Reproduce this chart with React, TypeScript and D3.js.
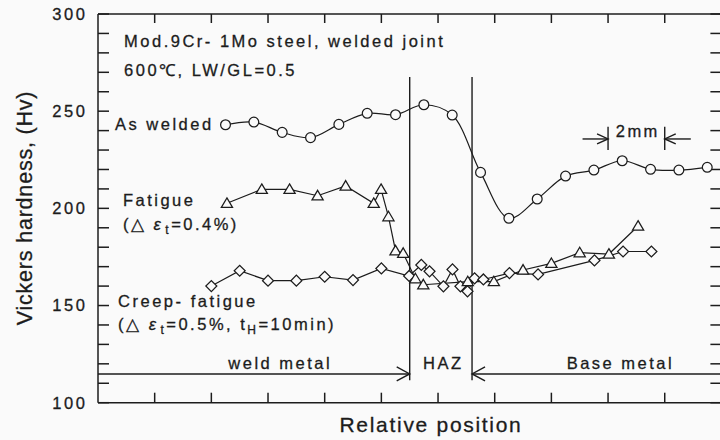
import React from "react";
import * as d3 from "d3";

// relative position in mm, hardness in Hv
const asWeldedPos = [4.5, 5.5, 6.5, 7.5, 8.5, 9.5, 10.5, 11.5, 12.5, 13.5, 14.5, 15.5, 16.5, 17.5, 18.5, 19.5, 20.5, 21.5];
const asWeldedHv = [243, 244.4, 239.1, 236.4, 243.2, 248.9, 248.2, 253.3, 248.0, 218.5, 194.9, 204.8, 216.6, 219.7, 224.5, 220.1, 219.7, 221.1];

const fatiguePos = [4.55, 5.78, 6.76, 7.75, 8.74, 9.73, 9.99, 10.25, 10.5, 10.77, 11.2, 11.48, 13.05, 13.97, 15.0, 16.0, 17.0, 18.03, 19.06];
const fatigueHv = [202.6, 209.8, 209.8, 206.5, 211.5, 202.6, 209.8, 195.7, 178.2, 176.9, 163.8, 160.7, 162.3, 162.3, 168.3, 171.7, 177.2, 176.5, 190.9];

const creepPos = [4.0, 5.0, 6.0, 7.0, 8.0, 9.0, 10.0, 10.98, 11.41, 11.7, 12.19, 12.51, 12.79, 13.04, 13.29, 13.6, 14.52, 15.53, 17.52, 18.53, 19.53];
const creepHv = [160.0, 167.9, 162.8, 162.8, 164.8, 163.1, 169.1, 165.2, 170.9, 167.6, 159.9, 168.6, 159.9, 157.3, 164.0, 163.4, 166.7, 166.0, 173.2, 177.8, 177.8];

const yTickLabels = [100, 150, 200, 250, 300];
const hazBounds = [11, 13.2];

const FONT = '"Liberation Sans", Arial, sans-serif';
const INK = "#1c1c1c";
const BG = "#fafafa";

export default function App() {
  const x = d3.scaleLinear().domain([0, 22]).range([98, 721.4]);
  const y = d3.scaleLinear().domain([100, 300]).range([402.7, 14]);
  const [x0, x1] = x.range();
  const [yb, yt] = y.range();

  const pts = (xs: number[], ys: number[]) => xs.map((v, i) => [v, ys[i]] as [number, number]);
  const aw = pts(asWeldedPos, asWeldedHv);
  const fa = pts(fatiguePos, fatigueHv);
  const cf = pts(creepPos, creepHv);

  const smooth = d3.line<[number, number]>().x(d => x(d[0])).y(d => y(d[1])).curve(d3.curveCatmullRom.alpha(0.5));
  const straight = d3.line<[number, number]>().x(d => x(d[0])).y(d => y(d[1]));

  const minorY = d3.range(100, 301, 10);
  const minorX = d3.range(2, 22, 2);

  const tri = "M0,-5.4L5.6,4.1L-5.6,4.1Z";
  const diamond = d3.symbol(d3.symbolSquare, 60)();

  const arrowY = y(114.8);
  const txt = { fontFamily: FONT, fill: INK, fontSize: 16.5, letterSpacing: 2.5, stroke: INK, strokeWidth: 0.3 } as const;

  return (
    <svg width={720} height={440} style={{ position: "absolute", left: 0, top: 0, background: BG }}>
      <rect width={720} height={440} fill={BG} />
      {/* frame */}
      <g stroke={INK} strokeWidth={1.5} fill="none">
        <line x1={x0} x2={x0} y1={yt} y2={yb} />
        <line x1={x0} x2={x1} y1={yb} y2={yb} />
        <line x1={x0} x2={x1} y1={yt} y2={yt} />
        <line x1={x1} x2={x1} y1={yt} y2={yb} />
        {minorY.map(v => (
          <g key={"ty" + v}>
            <line x1={x0} x2={x0 + 11} y1={y(v)} y2={y(v)} />
            <line x1={x1} x2={x1 - 11} y1={y(v)} y2={y(v)} />
          </g>
        ))}
        {minorX.map(v => (
          <g key={"tx" + v}>
            <line x1={x(v)} x2={x(v)} y1={yb} y2={yb - 10} />
            <line x1={x(v)} x2={x(v)} y1={yt} y2={yt + 9} />
          </g>
        ))}
      </g>
      {yTickLabels.map(v => (
        <text key={"l" + v} x={87.5} y={y(v)} dy="0.36em" textAnchor="end" fontFamily={FONT} fontSize={16.5} letterSpacing={2.6} fill={INK} stroke={INK} strokeWidth={0.3}>
          {v}
        </text>
      ))}
      <text transform={`translate(32,208) rotate(-90)`} textAnchor="middle" fontFamily={FONT} fontSize={21.5} letterSpacing={0.8} fill={INK} stroke={INK} strokeWidth={0.3}>
        Vickers hardness, (Hv)
      </text>
      <text x={431} y={432} textAnchor="middle" fontFamily={FONT} fontSize={21} letterSpacing={1.7} fill={INK} stroke={INK} strokeWidth={0.3}>
        Relative position
      </text>

      {/* region markers */}
      <g stroke={INK} strokeWidth={1.4} fill="none">
        {hazBounds.map(b => (
          <line key={"hb" + b} x1={x(b)} x2={x(b)} y1={y(267.6)} y2={y(111.5)} />
        ))}
        <line x1={x0} x2={x(hazBounds[0])} y1={arrowY} y2={arrowY} />
        <line x1={x(hazBounds[1])} x2={x1} y1={arrowY} y2={arrowY} />
        <path d={`M${x(hazBounds[0]) - 13},${arrowY - 7}L${x(hazBounds[0])},${arrowY}L${x(hazBounds[0]) - 13},${arrowY + 7}`} />
        <path d={`M${x(hazBounds[1]) + 13},${arrowY - 7}L${x(hazBounds[1])},${arrowY}L${x(hazBounds[1]) + 13},${arrowY + 7}`} />
        {/* 2mm scale */}
        <line x1={x(18)} x2={x(18)} y1={y(242)} y2={y(230)} />
        <line x1={x(20)} x2={x(20)} y1={y(242)} y2={y(230)} />
        <line x1={x(17.1)} x2={x(18)} y1={y(235.7)} y2={y(235.7)} />
        <line x1={x(20)} x2={x(20.92)} y1={y(235.7)} y2={y(235.7)} />
        <path d={`M${x(18) - 11},${y(235.7) - 5}L${x(18)},${y(235.7)}L${x(18) - 11},${y(235.7) + 5}`} />
        <path d={`M${x(20) + 11},${y(235.7) - 5}L${x(20)},${y(235.7)}L${x(20) + 11},${y(235.7) + 5}`} />
      </g>
      <text x={x(18.27)} y={y(236.9)} {...txt}>2mm</text>
      <text x={x(4.6)} y={y(117.4)} {...txt}>weld metal</text>
      <text x={x(11.47)} y={y(117.4)} {...txt}>HAZ</text>
      <text x={x(16.54)} y={y(117.4)} {...txt}>Base metal</text>

      {/* annotations */}
      <text x={x(0.92)} y={y(283)} {...txt}>Mod.9Cr- 1Mo steel, welded joint</text>
      <text x={x(0.92)} y={y(268.1)} {...txt}>600℃, LW/GL=0.5</text>
      <text x={x(0.6)} y={y(240.3)} {...txt}>As welded</text>
      <text x={x(0.88)} y={y(201.2)} {...txt}>Fatigue</text>
      <text x={x(0.88)} y={y(189)} {...txt}>
        (△ <tspan fontStyle="italic">ε</tspan>
        <tspan fontSize={12} dx={2} dy={4}>t</tspan>
        <tspan dy={-4}>=0.4%)</tspan>
      </text>
      <text x={x(0.71)} y={y(149.1)} {...txt}>Creep- fatigue</text>
      <text x={x(0.71)} y={y(137.4)} {...txt}>
        (△ <tspan fontStyle="italic">ε</tspan>
        <tspan fontSize={12} dx={2} dy={4}>t</tspan>
        <tspan dy={-4}>=0.5%, t</tspan>
        <tspan fontSize={12} dy={4}>H</tspan>
        <tspan dy={-4}>=10min)</tspan>
      </text>

      {/* series */}
      <g fill="none" stroke={INK} strokeWidth={1.2}>
        <path d={straight(cf) || ""} />
        <path d={straight(fa) || ""} />
        <path d={smooth(aw) || ""} />
      </g>
      <g fill={BG} stroke={INK} strokeWidth={1.25}>
        {cf.map((d, i) => (
          <path key={"c" + i} d={diamond || ""} transform={`translate(${x(d[0])},${y(d[1])}) rotate(45)`} />
        ))}
        {fa.map((d, i) => (
          <path key={"f" + i} d={tri} transform={`translate(${x(d[0])},${y(d[1])})`} />
        ))}
        {aw.map((d, i) => (
          <circle key={"a" + i} cx={x(d[0])} cy={y(d[1])} r={4.9} />
        ))}
      </g>
    </svg>
  );
}
